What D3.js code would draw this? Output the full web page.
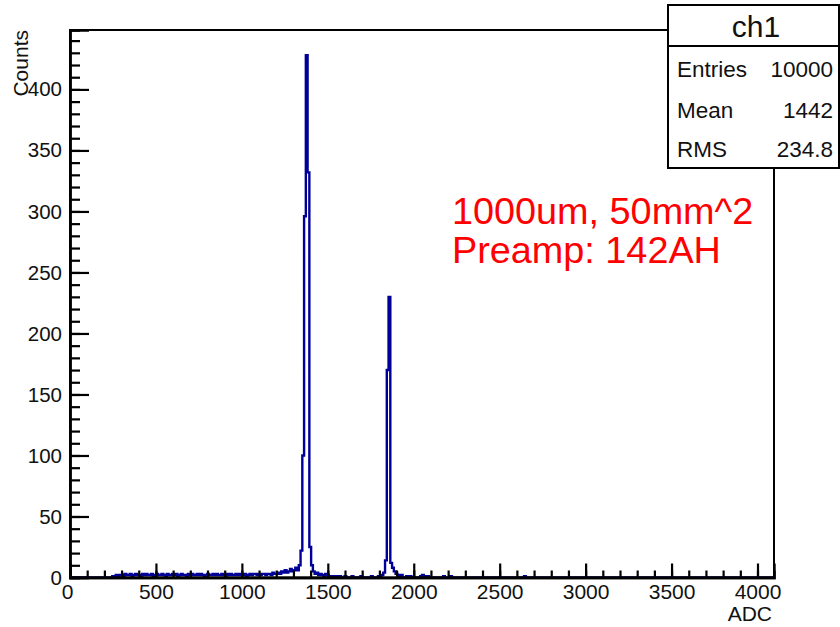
<!DOCTYPE html>
<html>
<head>
<meta charset="utf-8">
<script src="https://cdn.jsdelivr.net/npm/d3@7"></script>
<style>
  html, body { margin: 0; padding: 0; background: #fff; }
  svg { display: block; font-family: "Liberation Sans", Arial, sans-serif; }
</style>
</head>
<body>
<svg id="chart" width="840" height="627"></svg>
<script>
// ---------- data ----------
const xDomain = [0, 4096];
const yDomain = [0, 448.7];
const nBins = 400;
const regionStartBin = 23;
// counts of bins 23..216 (bin width 4096/400)
const regionCounts = [
  0,1,0,2,1,2,2,1,3,2,
  2,3,1,2,3,2,2,1,3,2,
  3,2,2,3,1,2,3,2,2,3,
  2,1,3,2,2,3,2,3,1,2,
  3,2,2,1,3,2,3,2,2,3,
  2,3,2,1,2,3,2,2,3,2,
  3,2,2,3,2,1,3,2,3,2,
  2,3,2,3,2,2,3,1,2,3,
  2,3,3,2,3,2,3,3,2,3,
  3,2,4,3,3,4,3,5,4,6,
  4,5,7,5,6,8,6,10,22,100,
  296,428,332,25,10,5,3,4,2,3,
  2,1,3,2,1,0,1,0,1,0,
  1,0,0,1,0,0,0,1,0,0,
  0,0,1,0,0,0,0,0,1,0,
  0,0,1,1,2,4,14,170,230,12,
  8,5,3,2,1,2,0,0,1,0,
  1,0,0,0,0,0,1,2,1,0,
  1,0,0,0,0,0,0,0,0,1,
  0,0,0,1
];
const extraBins = [258];
const extraCounts = [1];

const xMajorTicks = [0, 500, 1000, 1500, 2000, 2500, 3000, 3500, 4000];
const xMinorTicks = d3.range(0, 4001, 100);
const yMajorTicks = [0, 50, 100, 150, 200, 250, 300, 350, 400];
const yMinorTicks = d3.range(0, 441, 10);

const statsTitle = "ch1";
const statsLabels = ["Entries", "Mean", "RMS"];
const statsValues = ["10000", "1442", "234.8"];
const noteLines = ["1000um, 50mm^2", "Preamp: 142AH"];
const xTitle = "ADC";
const yTitle = "Counts";

// ---------- build histogram ----------
const binWidth = (xDomain[1] - xDomain[0]) / nBins;
const counts = new Array(nBins).fill(0);
regionCounts.forEach((c, i) => { counts[regionStartBin + i] = c; });
extraBins.forEach((b, i) => { counts[b] = extraCounts[i]; });
const pts = counts.map((c, i) => [xDomain[0] + i * binWidth, c]);
pts.push([xDomain[1], counts[nBins - 1]]);

// ---------- layout ----------
const L = 70, R = 774, T = 30, B = 577.5;
const svg = d3.select("#chart");
const x = d3.scaleLinear().domain(xDomain).range([L, R]);
const y = d3.scaleLinear().domain(yDomain).range([B, T]);

svg.append("defs").append("clipPath").attr("id", "clip")
  .append("rect").attr("x", L).attr("y", T).attr("width", R - L).attr("height", B - T);

// histogram
const line = d3.line().x(d => x(d[0])).y(d => y(d[1])).curve(d3.curveStepAfter);
svg.append("path").datum(pts)
  .attr("clip-path", "url(#clip)")
  .attr("d", line)
  .attr("fill", "none")
  .attr("stroke", "#000099")
  .attr("stroke-width", 2.4);

// frame
svg.append("rect").attr("x", L).attr("y", T).attr("width", R - L).attr("height", B - T)
  .attr("fill", "none").attr("stroke", "#000").attr("stroke-width", 2);

// x axis
const xAxisMinor = d3.axisBottom(x).tickValues(xMinorTicks).tickSize(-7).tickFormat("");
const xAxisMajor = d3.axisBottom(x).tickValues(xMajorTicks).tickSize(-14).tickPadding(7)
  .tickFormat(d3.format("d"));
const gxm = svg.append("g").attr("transform", `translate(0,${B})`).call(xAxisMinor);
const gx = svg.append("g").attr("transform", `translate(0,${B})`).call(xAxisMajor);
[gxm, gx].forEach(g => {
  g.select(".domain").attr("stroke", "#000").attr("stroke-width", 2.4);
  g.selectAll(".tick line").attr("stroke", "#000").attr("stroke-width", 2.2);
});
gx.selectAll("text").attr("font-size", 21).attr("fill", "#111")
  .attr("font-family", "Liberation Sans, Arial, sans-serif");
gx.selectAll(".tick").filter(d => d === 0).select("text").attr("dx", -3);

// y axis
const yAxisMinor = d3.axisLeft(y).tickValues(yMinorTicks).tickSize(-10).tickFormat("");
const yAxisMajor = d3.axisLeft(y).tickValues(yMajorTicks).tickSize(-19).tickPadding(8)
  .tickFormat(d3.format("d"));
const gym = svg.append("g").attr("transform", `translate(${L},0)`).call(yAxisMinor);
const gy = svg.append("g").attr("transform", `translate(${L},0)`).call(yAxisMajor);
[gym, gy].forEach(g => {
  g.select(".domain").attr("stroke", "#000").attr("stroke-width", 2.4);
  g.selectAll(".tick line").attr("stroke", "#000").attr("stroke-width", 2.2);
});
gy.selectAll("text").attr("font-size", 20.5).attr("fill", "#111")
  .attr("font-family", "Liberation Sans, Arial, sans-serif");

// axis titles
svg.append("text").attr("x", R - 2).attr("y", 621)
  .attr("text-anchor", "end").attr("font-size", 21).attr("fill", "#111").text(xTitle);
svg.append("text").attr("transform", `translate(28,${T}) rotate(-90)`)
  .attr("text-anchor", "end").attr("font-size", 21).attr("fill", "#111").text(yTitle);

// stats box
const sb = { x: 668, y: 5, w: 171, h: 163, titleH: 41 };
svg.append("rect").attr("x", sb.x).attr("y", sb.y).attr("width", sb.w).attr("height", sb.h)
  .attr("fill", "#fff").attr("stroke", "#000").attr("stroke-width", 2);
svg.append("line").attr("x1", sb.x).attr("x2", sb.x + sb.w)
  .attr("y1", sb.y + sb.titleH).attr("y2", sb.y + sb.titleH)
  .attr("stroke", "#000").attr("stroke-width", 2);
svg.append("text").attr("x", 756).attr("y", 37).attr("text-anchor", "middle")
  .attr("font-size", 30).attr("fill", "#111").text(statsTitle);
const rowY = [77, 118, 157];
statsLabels.forEach((lab, i) => {
  svg.append("text").attr("x", 677).attr("y", rowY[i]).attr("font-size", 22.5)
    .attr("fill", "#111").text(lab);
  svg.append("text").attr("x", 833).attr("y", rowY[i]).attr("text-anchor", "end")
    .attr("font-size", 22.5).attr("fill", "#111").text(statsValues[i]);
});

// annotation
noteLines.forEach((t, i) => {
  svg.append("text").attr("x", 452).attr("y", 224 + i * 39)
    .attr("font-size", 37.8).attr("fill", "#ff0000").text(t);
});
</script>
</body>
</html>
